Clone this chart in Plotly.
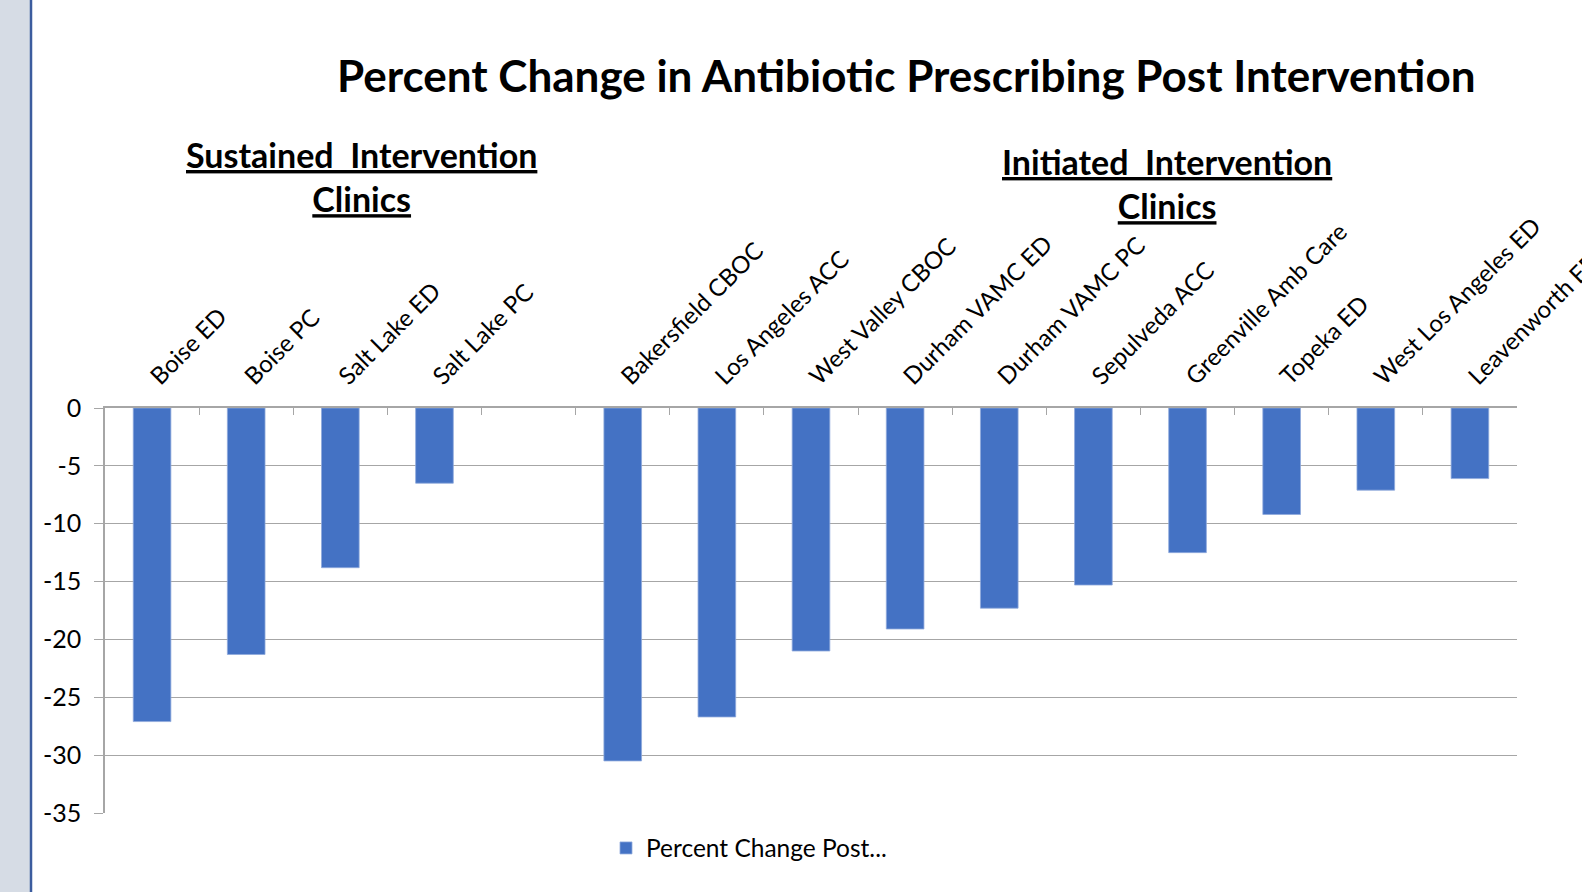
import plotly.graph_objects as go

categories = ["Boise ED", "Boise PC", "Salt Lake ED", "Salt Lake PC", " ",
              "Bakersfield CBOC", "Los Angeles ACC", "West Valley CBOC",
              "Durham VAMC ED", "Durham VAMC PC", "Sepulveda ACC",
              "Greenville Amb Care", "Topeka ED", "West Los Angeles ED",
              "Leavenworth ED"]
values = [-27.1, -21.3, -13.8, -6.5, None,
          -30.5, -26.7, -21.0, -19.1, -17.3, -15.3, -12.5, -9.2, -7.1, -6.1]
series_name = "Percent Change Post..."
y_ticks = [0, -5, -10, -15, -20, -25, -30, -35]

W, H = 1582, 892
L, R, T, B = 105, 65, 408, 79
pw, ph = W - L - R, H - T - B

def px_x(x):
    return (x - L) / pw

def px_y(y):
    return (H - B - y) / ph

FONT = "Lato"
fig = go.Figure()
fig.add_trace(go.Bar(x=categories, y=values, name=series_name,
                     marker=dict(color="#4472C4", line=dict(width=0.8, color="#8FAADC")),
                     showlegend=True))

fig.update_layout(
    width=W, height=H,
    margin=dict(l=L, r=R, t=T, b=B, autoexpand=False),
    paper_bgcolor="white", plot_bgcolor="white",
    bargap=0.6,
    font=dict(family=FONT, color="black"),
    showlegend=True,
    legend=dict(orientation="h", x=px_x(606), y=px_y(848), xanchor="left", yanchor="middle",
                font=dict(size=24.5, family=FONT), bgcolor="rgba(0,0,0,0)",
                itemwidth=30),
    xaxis=dict(side="top", type="category", tickangle=-45,
               tickfont=dict(size=24, family=FONT),
               showline=True, linecolor="#A6A6A6", linewidth=1.5,
               ticks="inside", tickson="boundaries", ticklen=7, tickcolor="#A6A6A6",
               showgrid=False, ticklabelstandoff=7),
    yaxis=dict(range=[-35, 0], tickvals=y_ticks, ticktext=[str(v) for v in y_ticks],
               tickfont=dict(size=25, family=FONT),
               showline=True, linecolor="#A6A6A6", linewidth=1.5,
               ticks="outside", ticklen=9, tickcolor="#A6A6A6",
               showgrid=True, gridcolor="#A6A6A6", gridwidth=1.2,
               zeroline=False, ticklabelstandoff=8),
)

# slide decoration: left strip and blue line
fig.add_shape(type="rect", xref="paper", yref="paper",
              x0=px_x(0), x1=px_x(30), y0=px_y(H), y1=px_y(0),
              fillcolor="#D6DCE5", line=dict(width=0), layer="below")
fig.add_shape(type="line", xref="paper", yref="paper",
              x0=px_x(31), x1=px_x(31), y0=px_y(H), y1=px_y(0),
              line=dict(color="#3B5C9E", width=2.5))

fig.add_annotation(text="<b>Percent Change in Antibiotic Prescribing Post Intervention</b>",
                   xref="paper", yref="paper", x=px_x(906), y=px_y(75),
                   xanchor="center", yanchor="middle", showarrow=False,
                   font=dict(size=44, family=FONT, color="black"))
fig.add_annotation(text="<b><u>Sustained  Intervention</u></b><br><b><u>Clinics</u></b>",
                   xref="paper", yref="paper", x=px_x(361), y=px_y(176),
                   xanchor="center", yanchor="middle", showarrow=False,
                   font=dict(size=34, family=FONT, color="black"))
fig.add_annotation(text="<b><u>Initiated  Intervention</u></b><br><b><u>Clinics</u></b>",
                   xref="paper", yref="paper", x=px_x(1167), y=px_y(183),
                   xanchor="center", yanchor="middle", showarrow=False,
                   font=dict(size=34, family=FONT, color="black"))

fig.write_html("out.html")
